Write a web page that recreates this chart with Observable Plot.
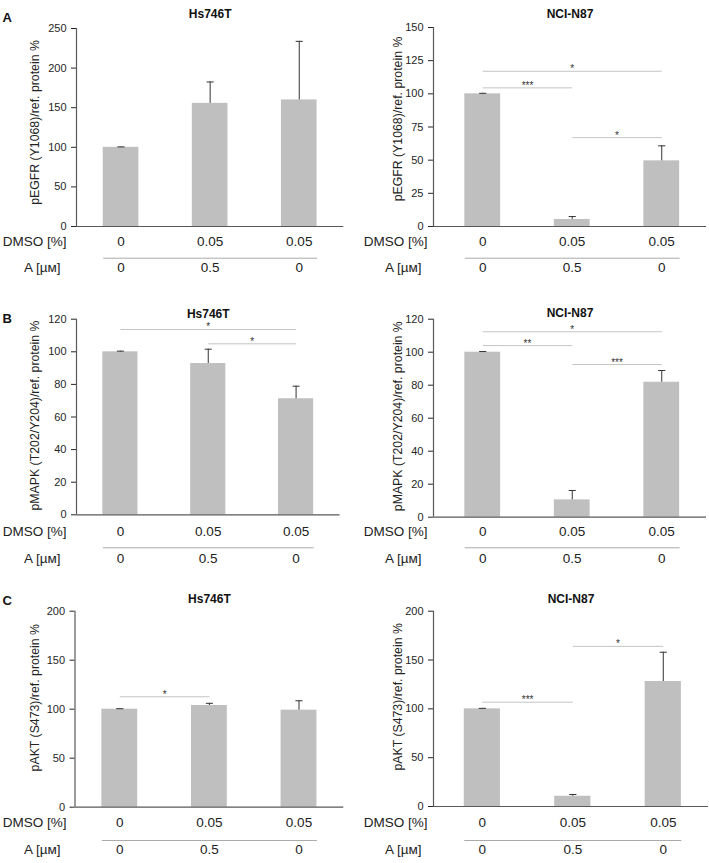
<!DOCTYPE html>
<html><head><meta charset="utf-8">
<script src="https://cdn.jsdelivr.net/npm/d3@7"></script>
<script src="https://cdn.jsdelivr.net/npm/@observablehq/plot@0.6"></script>
<style>
body{margin:0;background:#fff;}
#root{position:relative;width:709px;height:863px;overflow:hidden;font-family:"Liberation Sans",Arial,sans-serif;}
#root svg{position:absolute;}
</style></head><body><div id="root"></div>
<script>
// ---- data ----
const conditions = [1, 2, 3];
const dmsoLabels = ["0", "0.05", "0.05"];
const aLabels = ["0", "0.5", "0"];
const rowLabelDmso = "DMSO [%]";
const rowLabelA = "A [µм]";
const panelLetters = ["A", "B", "C"];
const cellLines = ["Hs746T", "NCI-N87"];
const yLabels = ["pEGFR (Y1068)/ref. protein %", "pMAPK (T202/Y204)/ref. protein %", "pAKT (S473)/ref. protein %"];

const egfrHs746T = [100, 155.5, 159.8];
const egfrHs746TErr = [0.5, 27, 74];
const egfrNCIN87 = [100, 5.3, 49.5];
const egfrNCIN87Err = [0.4, 2.2, 11.3];
const mapkHs746T = [100, 92.8, 71.2];
const mapkHs746TErr = [0.4, 8.8, 7.7];
const mapkNCIN87 = [100, 10.5, 81.8];
const mapkNCIN87Err = [0.4, 5.7, 7.1];
const aktHs746T = [100, 103.8, 99];
const aktHs746TErr = [0.5, 2.2, 9.6];
const aktNCIN87 = [100, 10.5, 128];
const aktNCIN87Err = [0.5, 1.8, 30];

const ticksEgfrHs746T = [0, 50, 100, 150, 200, 250];
const ticksEgfrNCIN87 = [0, 25, 50, 75, 100, 125, 150];
const ticksMapk = [0, 20, 40, 60, 80, 100, 120];
const ticksAkt = [0, 50, 100, 150, 200];

// significance brackets: [from, to, level, label]
const sigEgfrHs746T = [];
const sigEgfrNCIN87 = [[1, 3, 117, "*"], [1, 2, 104.5, "***"], [2, 3, 67, "*"]];
const sigMapkHs746T = [[1, 3, 113.7, "*"], [2, 3, 104.9, "*"]];
const sigMapkNCIN87 = [[1, 3, 112.4, "*"], [1, 2, 104, "**"], [2, 3, 92.5, "***"]];
const sigAktHs746T = [[1, 2, 112.7, "*"]];
const sigAktNCIN87 = [[1, 2, 106.8, "***"], [2, 3, 164, "*"]];

// ---- layout (positions only) ----
const FONT = "'Liberation Sans', Arial, sans-serif";
const panels = [
  {row: 0, col: 0, values: egfrHs746T, errors: egfrHs746TErr, ticks: ticksEgfrHs746T, sig: sigEgfrHs746T,
   L: {left: 0, top: 0, width: 354, height: 285, ml: 76, mr: 10.7, mt: 28, mb: 59, xd: [0.5, 3.5],
       titleDy: -19, letterDy: -16, ylDx: -41, ylDy: -5, r1: 19, r2: 31.7, r3: 45.7, l1: -10, l2: -16}},
  {row: 0, col: 1, values: egfrNCIN87, errors: egfrNCIN87Err, ticks: ticksEgfrNCIN87, sig: sigEgfrNCIN87,
   L: {left: 354, top: 0, width: 355, height: 285, ml: 79, mr: 3, mt: 27, mb: 59, xd: [0.45, 3.5],
       titleDy: -18, ylDx: -35, ylDy: -8, r1: 19, r2: 31.7, r3: 45.7, l1: -6, l2: -12}},
  {row: 1, col: 0, values: mapkHs746T, errors: mapkHs746TErr, ticks: ticksMapk, sig: sigMapkHs746T,
   L: {left: 0, top: 290, width: 354, height: 285, ml: 76, mr: 14.5, mt: 28.7, mb: 60.7, xd: [0.5, 3.5],
       titleDy: -10.2, letterDy: -5.7, ylDx: -41, ylDy: -1.5, r1: 20.7, r2: 33, r3: 47.7, l1: -10, l2: -16}},
  {row: 1, col: 1, values: mapkNCIN87, errors: mapkNCIN87Err, ticks: ticksMapk, sig: sigMapkNCIN87,
   L: {left: 354, top: 290, width: 355, height: 285, ml: 79, mr: 3, mt: 28.7, mb: 58.3, xd: [0.45, 3.5],
       titleDy: -10.7, ylDx: -35, ylDy: -2, r1: 18.3, r2: 30.6, r3: 45.3, l1: -6, l2: -12}},
  {row: 2, col: 0, values: aktHs746T, errors: aktHs746TErr, ticks: ticksAkt, sig: sigAktHs746T,
   L: {left: 0, top: 575, width: 354, height: 288, ml: 74.5, mr: 10.7, mt: 35.7, mb: 56.3, xd: [0.5, 3.5],
       titleDy: -16.7, letterDy: -15.7, ylDx: -39.5, ylDy: -11.5, r1: 19.8, r2: 33.3, r3: 46.3, l1: -8.5, l2: -14.5}},
  {row: 2, col: 1, values: aktNCIN87, errors: aktNCIN87Err, ticks: ticksAkt, sig: sigAktNCIN87,
   L: {left: 354, top: 575, width: 355, height: 288, ml: 79, mr: 1, mt: 35.7, mb: 57, xd: [0.46, 3.5],
       titleDy: -16.7, ylDx: -35, ylDy: -12, r1: 20.5, r2: 34, r3: 47, l1: -6, l2: -12}}
];

const HW = 0.2;   // half bar width in category units
const CAP = 0.04; // half error-cap width

function drawPanel(p) {
  const L = p.L;
  const data = conditions.map((c, k) => ({i: c, v: p.values[k], e: p.errors[k], dmso: dmsoLabels[k], a: aLabels[k]}));
  const sig = p.sig.map(([f, t, l, s]) => ({f, t, l, s}));
  const sep = [{x1: conditions[0] - HW, x2: conditions[conditions.length - 1] + HW}];
  const marks = [
    Plot.rectY(data, {x1: d => d.i - HW, x2: d => d.i + HW, y1: d => 0, y2: "v", fill: "#bfbfbf"}),
    Plot.ruleX(data, {x: "i", y1: "v", y2: d => d.v + d.e, stroke: "#333", strokeWidth: 1}),
    Plot.link(data, {x1: d => d.i - CAP, x2: d => d.i + CAP, y1: d => d.v + d.e, y2: d => d.v + d.e, stroke: "#333", strokeWidth: 1}),
    Plot.ruleY([0], {stroke: "#595959", strokeWidth: 1.2}),
    Plot.ruleX([L.xd[0]], {y1: d => 0, y2: d => p.ticks[p.ticks.length - 1], stroke: "#595959", strokeWidth: 1.2}),
    Plot.link(sig, {x1: "f", x2: "t", y1: "l", y2: "l", stroke: "#c4c4c4", strokeWidth: 1}),
    Plot.text(sig, {x: d => (d.f + d.t) / 2, y: "l", text: "s", fontSize: 10, lineAnchor: "bottom", dy: 1, fill: "#333"}),
    Plot.text([cellLines[p.col]], {frameAnchor: "top", dy: L.titleDy, fontWeight: "bold", fontSize: 12, fill: "#111"}),
    Plot.text([yLabels[p.row]], {frameAnchor: "left", rotate: -90, textAnchor: "middle", lineAnchor: "middle", dx: L.ylDx, dy: L.ylDy, fontSize: 12.3, fill: "#222"}),
    Plot.text(data, {x: "i", text: "dmso", frameAnchor: "bottom", dy: L.r1, fontSize: 13.5, fill: "#222"}),
    Plot.link(sep, {x1: "x1", x2: "x2", y1: d => 0, y2: d => 0, dy: L.r2, stroke: "#aaaaaa", strokeWidth: 1}),
    Plot.text(data, {x: "i", text: "a", frameAnchor: "bottom", dy: L.r3, fontSize: 13.5, fill: "#222"}),
    Plot.text([rowLabelDmso], {frameAnchor: "bottom-left", dx: L.l1, dy: L.r1, textAnchor: "end", fontSize: 13.5, fill: "#222"}),
    Plot.text([rowLabelA], {frameAnchor: "bottom-left", dx: L.l2, dy: L.r3, textAnchor: "end", fontSize: 13.5, fill: "#222"})
  ];
  if (p.col === 0) {
    marks.push(Plot.text([panelLetters[p.row]], {frameAnchor: "top-left", dx: 2 - L.ml, dy: L.letterDy, textAnchor: "start", fontWeight: "bold", fontSize: 13, fill: "#111"}));
  }
  const chart = Plot.plot({
    width: L.width, height: L.height,
    marginLeft: L.ml, marginRight: L.mr, marginTop: L.mt, marginBottom: L.mb,
    x: {domain: L.xd, axis: null},
    y: {domain: [0, p.ticks[p.ticks.length - 1]], ticks: p.ticks, tickSize: 5, tickPadding: 5, label: null},
    style: {fontFamily: FONT, fontSize: "11px", color: "#262626", background: "transparent", overflow: "visible"},
    marks
  });
  chart.style.left = L.left + "px";
  chart.style.top = L.top + "px";
  document.getElementById("root").appendChild(chart);
}
panels.forEach(drawPanel);
</script></body></html>
